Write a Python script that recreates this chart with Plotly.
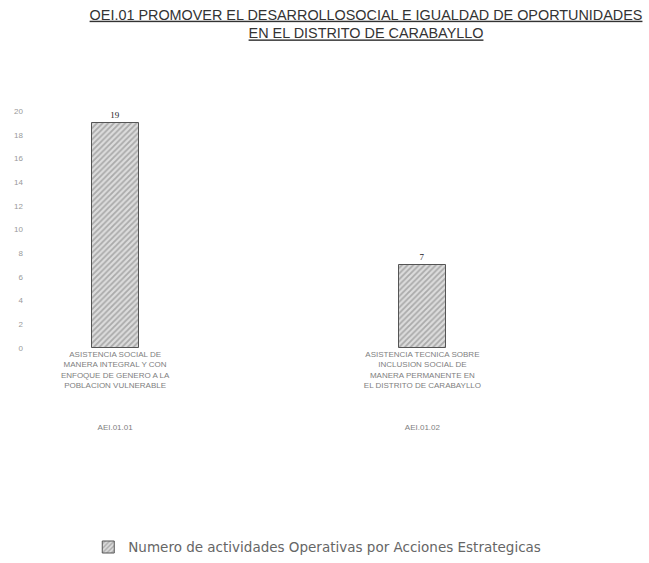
# bar chart: actividades operativas por accion estrategica (OEI.01)
import plotly.graph_objects as go

# data
categorias = [
    "ASISTENCIA SOCIAL DE<br>MANERA INTEGRAL Y CON<br>ENFOQUE DE GENERO A LA<br>POBLACION VULNERABLE<br><br><br><br>AEI.01.01",
    "ASISTENCIA TECNICA SOBRE<br>INCLUSION SOCIAL DE<br>MANERA PERMANENTE EN<br>EL DISTRITO DE CARABAYLLO<br><br><br><br>AEI.01.02",
]
actividades = [19, 7]
serie = "Numero de actividades Operativas por Acciones Estrategicas"
ticks_y = [0, 2, 4, 6, 8, 10, 12, 14, 16, 18, 20]

# traces
data = [go.Bar(
    x=categorias, y=actividades, name=serie,
    width=0.153,
    text=actividades, textposition="outside",
    textfont=dict(size=9, color="#222", family="Liberation Serif"),
    cliponaxis=False,
    marker=dict(color="#d8d8d8",
                line=dict(color="#555", width=1),
                pattern=dict(shape="/", fgcolor="#777", bgcolor="#dcdcdc",
                             size=4, solidity=0.45)),
)]

layout = go.Layout(
    width=649, height=563,
    paper_bgcolor="white", plot_bgcolor="white",
    font=dict(family="Liberation Sans", color="#777"),
    title=dict(
        text="<u>OEI.01 PROMOVER EL DESARROLLOSOCIAL E IGUALDAD DE OPORTUNIDADES</u><br><u>EN EL DISTRITO DE CARABAYLLO</u>",
        x=0.564, xanchor="center", y=0.965, yanchor="top",
        font=dict(size=14.4, color="#333", family="Liberation Sans"),
    ),
    margin=dict(l=30, r=29, t=111, b=215),
    xaxis=dict(range=[-0.277, 1.643], showgrid=False, showline=False, automargin=False,
               ticks="", tickangle=0, tickfont=dict(size=8, color="#808080")),
    yaxis=dict(range=[0, 20], tickvals=ticks_y, showgrid=False, showline=False,
               automargin=False, zeroline=False, ticks="", ticklabelstandoff=6,
               tickfont=dict(size=8, color="#999")),
    showlegend=True,
    legend=dict(orientation="h", x=0.136, xanchor="left", xref="container",
                y=0.028, yanchor="middle", yref="container",
                font=dict(size=13.5, color="#666", family="DejaVu Sans")),
    bargap=0,
)

fig = go.Figure(data=data, layout=layout)
# drop the browser's default body margin so the chart sits at the page corner
fig.write_html("out.html", config={"displayModeBar": False},
               post_script="document.body.style.margin='0';")
